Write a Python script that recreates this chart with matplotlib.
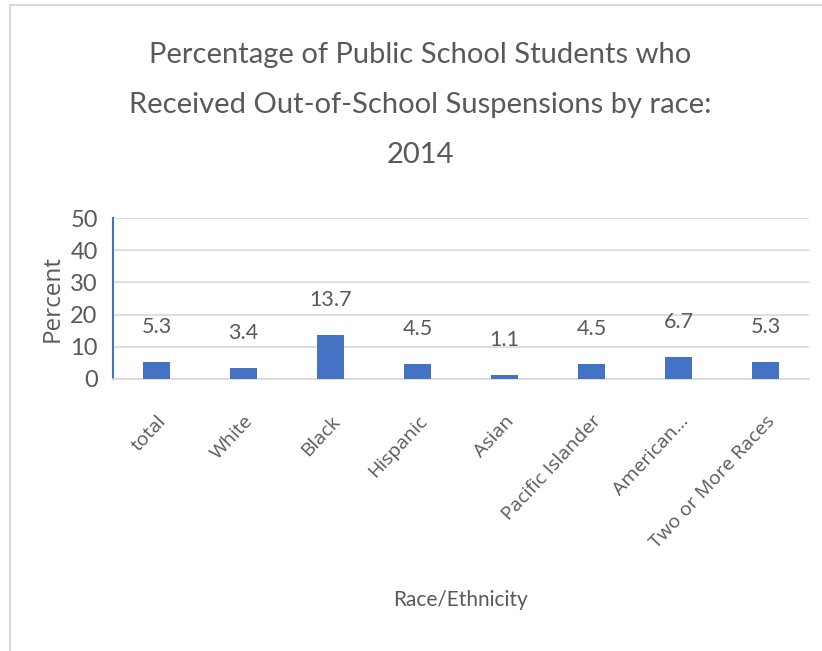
import matplotlib
matplotlib.use("Agg")
import matplotlib.pyplot as plt

# data
categories = ["total", "White", "Black", "Hispanic", "Asian",
              "Pacific Islander", "American...", "Two or More Races"]
percent = [5.3, 3.4, 13.7, 4.5, 1.1, 4.5, 6.7, 5.3]
y_ticks = [0, 10, 20, 30, 40, 50]
title_lines = ["Percentage of Public School Students who",
               "Received Out-of-School Suspensions by race:",
               "2014"]

title_font = ["Lato", "DejaVu Sans"]
label_font = ["Open Sans", "DejaVu Sans"]

grey = "#595959"
blue = "#4472C4"

fig = plt.figure(figsize=(8.22, 6.51), dpi=100)

# chart frame (cropped on right/bottom)
fig.add_artist(plt.Line2D([0.012, 1.0], [0.992, 0.992], color="#D9D9D9", lw=1.5))
fig.add_artist(plt.Line2D([0.012, 0.012], [0.0, 0.992], color="#D9D9D9", lw=1.5))

ax = fig.add_axes([0.1375, 0.418, 0.847, 0.247])

x = range(len(categories))
ax.bar(x, percent, width=0.31, color=blue, zorder=3)

# value labels
for xi, v in zip(x, percent):
    ax.annotate(f"{v}", (xi, v), xytext=(0, 18), textcoords="offset points",
                ha="center", va="bottom", fontsize=15.5, color=grey, family=title_font)

ax.set_xlim(-0.5, len(categories) - 0.5)
ax.set_ylim(0, 50)
ax.set_yticks(y_ticks)
ax.set_yticklabels([str(t) for t in y_ticks], fontsize=17, color=grey, family=title_font)
ax.set_xticks(list(x))
ax.set_xticklabels(categories, rotation=47, ha="right", rotation_mode="anchor",
                   fontsize=14, color=grey, family=label_font)
ax.tick_params(axis="both", length=0)
ax.tick_params(axis="x", pad=24)
ax.tick_params(axis="y", pad=11)

ax.grid(axis="y", color="#D9D9D9", lw=1.2, zorder=0)
for s in ["top", "right"]:
    ax.spines[s].set_visible(False)
ax.spines["bottom"].set_color("#D9D9D9")
ax.spines["bottom"].set_linewidth(1.2)
ax.spines["left"].set_color(blue)
ax.spines["left"].set_linewidth(1.5)

ax.set_ylabel("Percent", fontsize=17.5, color=grey, family=label_font, labelpad=4)

# title, three lines
for line, yy in zip(title_lines, [0.9155, 0.8387, 0.762]):
    fig.text(0.511, yy, line, ha="center", va="center",
             fontsize=21, color=grey, family=title_font)

fig.text(0.56, 0.078, "Race/Ethnicity", ha="center", va="center",
         fontsize=15, color=grey, family=title_font)

fig.savefig("out.png", dpi=100)
